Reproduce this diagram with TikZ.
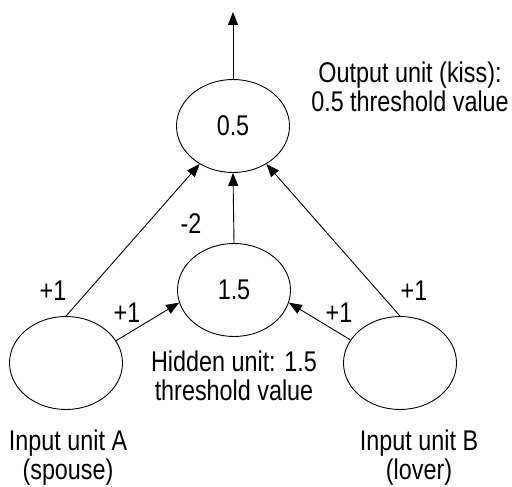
\documentclass[tikz,border=0pt]{standalone}
\usepackage{fontspec}
\setmainfont{Liberation Sans}[FakeStretch=0.82]
\usetikzlibrary{arrows.meta,shapes.geometric}
\begin{document}
\begin{tikzpicture}[x=1pt,y=-1pt,
  unit/.style={draw,ellipse,line width=0.9pt,minimum width=113pt,minimum height=93pt,inner sep=0pt},
  link/.style={line width=0.9pt,-{Triangle[length=13pt,width=10pt]}},
  lbl/.style={anchor=base,inner sep=0pt},
  note/.style={anchor=base,inner sep=0pt,align=center},
  every node/.style={font=\fontsize{28.5}{29}\selectfont}]
\useasboundingbox (0,0) rectangle (512,487);

% units
\node[unit] (out) at (233,126) {0.5};
\node[unit] (hid) at (234,290) {1.5};
\node[unit] (ina) at (66,363) {};
\node[unit] (inb) at (400,363) {};
\coordinate (top) at (233,12);

% connections
\draw[link] (out.north) -- (top);
\draw[link] (hid.north) -- (out.south);
\draw[link] (ina.north) -- (out);
\draw[link] (inb.north) -- (out);
\draw[link] (ina.24) -- (hid.193);
\draw[link] (inb.155) -- (hid.347);

% weights
\node[lbl] at (53,300) {+1};
\node[lbl] at (127,322) {+1};
\node[lbl] at (191,233) {-2};
\node[lbl] at (339,322) {+1};
\node[lbl] at (414,300) {+1};

% descriptions (base anchor sits on the last line)
\node[note] at (410,112) {Output unit (kiss):\\0.5 threshold value};
\node[note] at (234,400) {Hidden unit: 1.5\\threshold value};
\node[note] at (68,479) {Input unit A\\(spouse)};
\node[note] at (419,479) {Input unit B\\(lover)};
\end{tikzpicture}
\end{document}
